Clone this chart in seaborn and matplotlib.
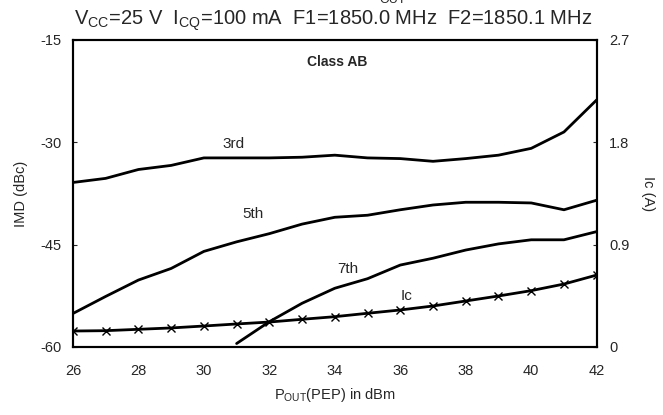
import matplotlib
matplotlib.use('Agg')
import matplotlib.pyplot as plt
import seaborn as sns
import pandas as pd

# P_out (dBm) sample points
pout = [26, 27, 28, 29, 30, 31, 32, 33, 34, 35, 36, 37, 38, 39, 40, 41, 42]
imd3 = [-35.9, -35.3, -34.0, -33.4, -32.3, -32.3, -32.3, -32.2, -31.9, -32.3, -32.4, -32.8, -32.4, -31.9, -30.9, -28.5, -23.8]
imd5 = [-55.1, -52.6, -50.2, -48.5, -46.0, -44.6, -43.4, -42.0, -41.0, -40.7, -39.9, -39.2, -38.8, -38.8, -38.9, -39.9, -38.5]
pout7 = [31, 32, 33, 34, 35, 36, 37, 38, 39, 40, 41, 42]
imd7 = [-59.5, -56.3, -53.6, -51.4, -50.0, -48.0, -47.0, -45.8, -44.9, -44.3, -44.3, -43.1]
ic = [0.140, 0.143, 0.155, 0.167, 0.184, 0.202, 0.219, 0.243, 0.266, 0.296, 0.325, 0.360, 0.404, 0.448, 0.495, 0.553, 0.632]

xticks = [26, 28, 30, 32, 34, 36, 38, 40, 42]
yticks_left = [-60, -45, -30, -15]
yticks_right = [0, 0.9, 1.8, 2.7]

sns.set_style('white')
plt.rcParams['font.family'] = ['Liberation Sans', 'DejaVu Sans']
plt.rcParams['axes.unicode_minus'] = False

df = pd.DataFrame({'pout': pout, 'imd3': imd3, 'imd5': imd5, 'ic': ic})
df7 = pd.DataFrame({'pout': pout7, 'imd7': imd7})

fig = plt.figure(figsize=(6.63, 4.15), dpi=100)
ax = fig.add_axes([0.110, 0.164, 0.790, 0.740])
ax2 = ax.twinx()

sns.lineplot(data=df, x='pout', y='imd3', ax=ax, color='black', lw=2.0)
sns.lineplot(data=df, x='pout', y='imd5', ax=ax, color='black', lw=2.0)
sns.lineplot(data=df7, x='pout', y='imd7', ax=ax, color='black', lw=2.0)
sns.lineplot(data=df, x='pout', y='ic', ax=ax2, color='black', lw=2.0,
             marker='x', markersize=6, markeredgewidth=1.0, markeredgecolor='black')

ax.set_xlim(26, 42)
ax.set_ylim(-60, -15)
ax2.set_ylim(0, 2.7)
ax.set_xticks(xticks)
ax.set_yticks(yticks_left)
ax2.set_yticks(yticks_right)
ax2.set_yticklabels(['0', '0.9', '1.8', '2.7'])

for a in (ax, ax2):
    for s in a.spines.values():
        s.set_linewidth(1.5)
        s.set_color('black')
ax.tick_params(axis='y', direction='in', length=3, labelsize=10.5, pad=8)
ax.tick_params(axis='x', direction='in', length=0, labelsize=10.5, pad=12)
ax2.tick_params(axis='y', direction='in', length=3, labelsize=10.5, pad=9)

ax.set_xlabel('P$_{\\mathregular{OUT}}$(PEP) in dBm', fontsize=10.5, labelpad=6)
ax.set_ylabel('IMD (dBc)', fontsize=10.5, labelpad=9)
ax2.set_ylabel('Ic (A)', fontsize=10.5, rotation=270, labelpad=18)

ax.text(30.9, -30.3, '3rd', fontsize=11, ha='center', va='center')
ax.text(31.5, -40.5, '5th', fontsize=11, ha='center', va='center')
ax.text(34.4, -48.6, '7th', fontsize=11, ha='center', va='center')
ax.text(36.2, -52.5, 'Ic', fontsize=11, ha='center', va='center')
ax.text(34.06, -18.2, 'Class AB', fontsize=10, fontweight='bold', ha='center', va='center')

fig.text(0.502, 0.950, 'V$_{\\mathregular{CC}}$=25 V  I$_{\\mathregular{CQ}}$=100 mA  F1=1850.0 MHz  F2=1850.1 MHz',
         fontsize=14.5, ha='center', va='center')
fig.text(0.592, 1.0, 'OUT', fontsize=9, ha='center', va='center')

fig.savefig('out.png', dpi=100)
